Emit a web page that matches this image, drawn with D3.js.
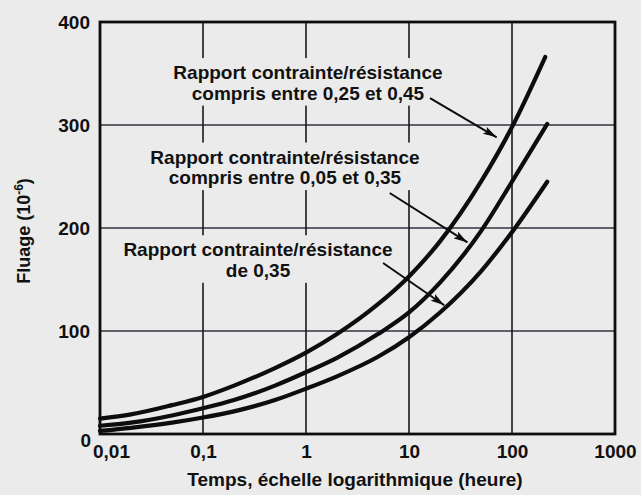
<!DOCTYPE html>
<html>
<head>
    <meta charset="utf-8">
    <title>Fluage en fonction du temps</title>
    <script src="https://d3js.org/d3.v7.min.js"></script>
</head>
<style>
    body {
        margin: 0;
        background: #ebebeb;
    }

    text {
        font-family: "Liberation Sans", Arial, Helvetica, sans-serif;
        font-weight: bold;
        fill: #111;
    }
</style>
<body>
    <svg class='chart'></svg>
</body>
<script>
    // données (temps en heures, fluage en 10^-6)
    var temps1 = [0.01, 0.02, 0.05, 0.1, 0.2, 0.5, 1, 2, 5, 10, 20, 50, 100, 210];
    var fluage1 = [15, 19, 28, 36, 47, 64, 79, 97, 126, 153, 187, 245, 298, 366];

    var temps2 = [0.01, 0.02, 0.05, 0.1, 0.2, 0.5, 1, 2, 5, 10, 20, 50, 100, 220];
    var fluage2 = [8, 11, 18, 25, 33, 47, 60, 74, 97, 118, 147, 197, 245, 301];

    var temps3 = [0.01, 0.02, 0.05, 0.1, 0.2, 0.5, 1, 2, 5, 10, 20, 50, 100, 220];
    var fluage3 = [3, 6, 11, 16, 22, 33, 44, 56, 75, 94, 118, 158, 196, 245];

    var tempsTicks = [0.01, 0.1, 1, 10, 100, 1000];
    var tempsTickLabels = ["0,01", "0,1", "1", "10", "100", "1000"];
    var fluageTicks = [0, 100, 200, 300, 400];

    // annotations : texte, ancrage (temps, fluage) et flèches
    var annotLigne1 = ["Rapport contrainte/résistance", "Rapport contrainte/résistance", "Rapport contrainte/résistance"];
    var annotLigne2 = ["compris entre 0,25 et 0,45", "compris entre 0,05 et 0,35", "de 0,35"];
    var annotTemps = [1.045, 0.625, 0.342];
    var annotFluage = [351, 269, 179];

    var flecheDebutT = [16, 6.5, 5.6];
    var flecheDebutF = [326, 234, 166];
    var flecheFinT = [71, 37, 22];
    var flecheFinF = [288, 186, 125];

    var width = 641;
    var height = 495;
    var bg = "#ebebeb";

    var svg = d3.select(".chart")
        .attr("width", width)
        .attr("height", height);

    svg.append("rect")
        .attr("width", width)
        .attr("height", height)
        .attr("fill", bg);

    var x = d3.scaleLog()
        .domain([0.01, 1000])
        .range([100, 615]);

    var y = d3.scaleLinear()
        .domain([0, 400])
        .range([434, 22]);

    //grille
    svg.append("g")
        .selectAll("line")
        .data(fluageTicks.slice(1, -1))
        .enter()
        .append("line")
        .attr("x1", x(0.01))
        .attr("x2", x(1000))
        .attr("y1", function(d) { return y(d); })
        .attr("y2", function(d) { return y(d); })
        .attr("stroke", "#3a3040")
        .attr("stroke-width", 1.6);

    svg.append("g")
        .selectAll("line")
        .data(tempsTicks.slice(1, -1))
        .enter()
        .append("line")
        .attr("x1", function(d) { return x(d); })
        .attr("x2", function(d) { return x(d); })
        .attr("y1", y(0))
        .attr("y2", y(400))
        .attr("stroke", "#1a1a1a")
        .attr("stroke-width", 1.6);

    //annotations (le fond coupe la grille)
    var annot = svg.append("g");
    var boxes = annot.append("g");
    var labels = annot.append("g");

    annotLigne1.forEach(function(l1, i) {
        var cx = x(annotTemps[i]);
        var cy = y(annotFluage[i]);
        var t = labels.append("text")
            .attr("text-anchor", "middle")
            .attr("font-size", 19);
        t.append("tspan")
            .attr("x", cx)
            .attr("y", cy)
            .attr("dy", "0.35em")
            .text(l1);
        t.append("tspan")
            .attr("x", cx)
            .attr("y", cy + 20.5)
            .attr("dy", "0.35em")
            .text(annotLigne2[i]);
        var bb = t.node().getBBox();
        boxes.append("rect")
            .attr("x", bb.x - 5)
            .attr("y", bb.y - 4)
            .attr("width", bb.width + 10)
            .attr("height", bb.height + 6)
            .attr("fill", bg);
    });

    //courbes
    var line = d3.line()
        .x(function(d) { return x(d[0]); })
        .y(function(d) { return y(d[1]); })
        .curve(d3.curveMonotoneX);

    var series = [d3.zip(temps1, fluage1), d3.zip(temps2, fluage2), d3.zip(temps3, fluage3)];

    svg.append("g")
        .selectAll("path")
        .data(series)
        .enter()
        .append("path")
        .attr("d", line)
        .attr("fill", "none")
        .attr("stroke", "#0d0d0d")
        .attr("stroke-width", 4.2)
        .attr("stroke-linecap", "round");

    //cadre
    svg.append("rect")
        .attr("x", x(0.01))
        .attr("y", y(400))
        .attr("width", x(1000) - x(0.01))
        .attr("height", y(0) - y(400))
        .attr("fill", "none")
        .attr("stroke", "#0d0d0d")
        .attr("stroke-width", 2.8);

    //flèches
    svg.append("defs")
        .append("marker")
        .attr("id", "tete")
        .attr("markerUnits", "userSpaceOnUse")
        .attr("viewBox", "0 0 14 8")
        .attr("refX", 14)
        .attr("refY", 4)
        .attr("markerWidth", 14)
        .attr("markerHeight", 8)
        .attr("orient", "auto")
        .append("path")
        .attr("d", "M0,0 L14,4 L0,8 L3,4 z")
        .attr("fill", "#0d0d0d");

    svg.append("g")
        .selectAll("line")
        .data(flecheDebutT)
        .enter()
        .append("line")
        .attr("x1", function(d) { return x(d); })
        .attr("y1", function(d, i) { return y(flecheDebutF[i]); })
        .attr("x2", function(d, i) { return x(flecheFinT[i]); })
        .attr("y2", function(d, i) { return y(flecheFinF[i]); })
        .attr("stroke", "#0d0d0d")
        .attr("stroke-width", 2)
        .attr("marker-end", "url(#tete)");

    //axes
    var xAxis = d3.axisBottom(x)
        .tickValues(tempsTicks)
        .tickFormat(function(d, i) { return tempsTickLabels[i]; })
        .tickSize(0)
        .tickPadding(10.5);

    var yAxis = d3.axisLeft(y)
        .tickValues(fluageTicks)
        .tickFormat(d3.format("d"))
        .tickSize(0)
        .tickPadding(10);

    var gx = svg.append("g")
        .attr("transform", "translate(0," + y(0) + ")")
        .call(xAxis);
    gx.select(".domain").remove();
    gx.selectAll("text")
        .attr("font-size", 19)
        .attr("font-family", null)
        .attr("fill", "#111");
    gx.selectAll(".tick")
        .filter(function(d) { return d === 0.01; })
        .select("text")
        .attr("dx", 11);

    var gy = svg.append("g")
        .attr("transform", "translate(" + x(0.01) + ",0)")
        .call(yAxis);
    gy.select(".domain").remove();
    gy.selectAll("text")
        .attr("font-size", 19)
        .attr("font-family", null)
        .attr("fill", "#111");
    gy.selectAll(".tick")
        .filter(function(d) { return d === 0; })
        .select("text")
        .attr("x", -9)
        .attr("y", 6);

    // titres des axes
    svg.append("text")
        .attr("x", 355)
        .attr("y", 486)
        .attr("text-anchor", "middle")
        .attr("font-size", 19)
        .text("Temps, échelle logarithmique (heure)");

    var yt = svg.append("text")
        .attr("transform", "translate(30,231) rotate(-90)")
        .attr("text-anchor", "middle")
        .attr("font-size", 18);
    yt.append("tspan").text("Fluage (10");
    yt.append("tspan")
        .attr("font-size", 12)
        .attr("dy", -7)
        .text("-6");
    yt.append("tspan")
        .attr("dy", 7)
        .text(")");
</script>
</html>
